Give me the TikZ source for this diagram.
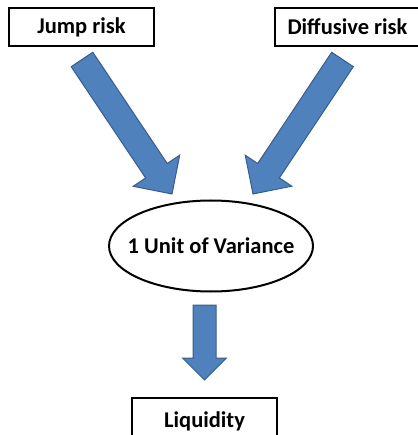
\documentclass[tikz,border=0pt]{standalone}
\usepackage{fontspec}
\setmainfont{Carlito}
\usepackage{tikz}
\usetikzlibrary{calc,shapes}

\definecolor{arrowblue}{HTML}{4F81BD}
\definecolor{arrowedge}{HTML}{385D8A}

\tikzset{
  labelfont/.style={font=\bfseries\fontsize{22.5}{26}\selectfont},
  riskbox/.style={draw, line width=2pt, inner sep=0pt, minimum width=145pt,
    minimum height=38pt, labelfont},
  varellipse/.style={ellipse, draw, line width=2pt, inner ysep=0pt,
    inner xsep=-15pt, minimum width=204pt, minimum height=91pt, labelfont},
  blockarrowstyle/.style={fill=arrowblue, draw=arrowedge, line width=1pt}
}

% block arrow: tail, tip, shaft half width, head half width, head length
\newcommand{\blockarrow}[5]{%
  \coordinate (#1-head) at ($(#2)!#5!(#1)$);
  \draw[blockarrowstyle] ($(#1)!#3!90:(#2)$) -- ($(#1-head)!#3!90:(#2)$)
    -- ($(#1-head)!#4!90:(#2)$) -- (#2) -- ($(#1-head)!#4!-90:(#2)$)
    -- ($(#1-head)!#3!-90:(#2)$) -- ($(#1)!#3!-90:(#2)$) -- cycle;}

\begin{document}
\begin{tikzpicture}[x=1pt,y=-1pt]
        \useasboundingbox (0,0) rectangle (417,435);
        \node[riskbox] (jump) at (81.5,27) {Jump risk};
        \node[riskbox] (diffusive) at (347.5,27) {Diffusive risk};
        \node[varellipse] (variance) at (211,246) {1 Unit of Variance};
        \node[riskbox, minimum height=46pt] (liquidity) at (204.5,421) {Liquidity};

        \coordinate (jumptail) at (82,59.5);
        \coordinate (jumptip) at (172,194);
        \coordinate (difftail) at (342.5,59.5);
        \coordinate (difftip) at (253,194);
        \coordinate (vartail) at (204.5,305);
        \coordinate (vartip) at (204.5,380);

        \blockarrow{jumptail}{jumptip}{13pt}{28pt}{28pt}
        \blockarrow{difftail}{difftip}{13pt}{28pt}{28pt}
        \blockarrow{vartail}{vartip}{11.5pt}{22pt}{22pt}
    \end{tikzpicture}
\end{document}
